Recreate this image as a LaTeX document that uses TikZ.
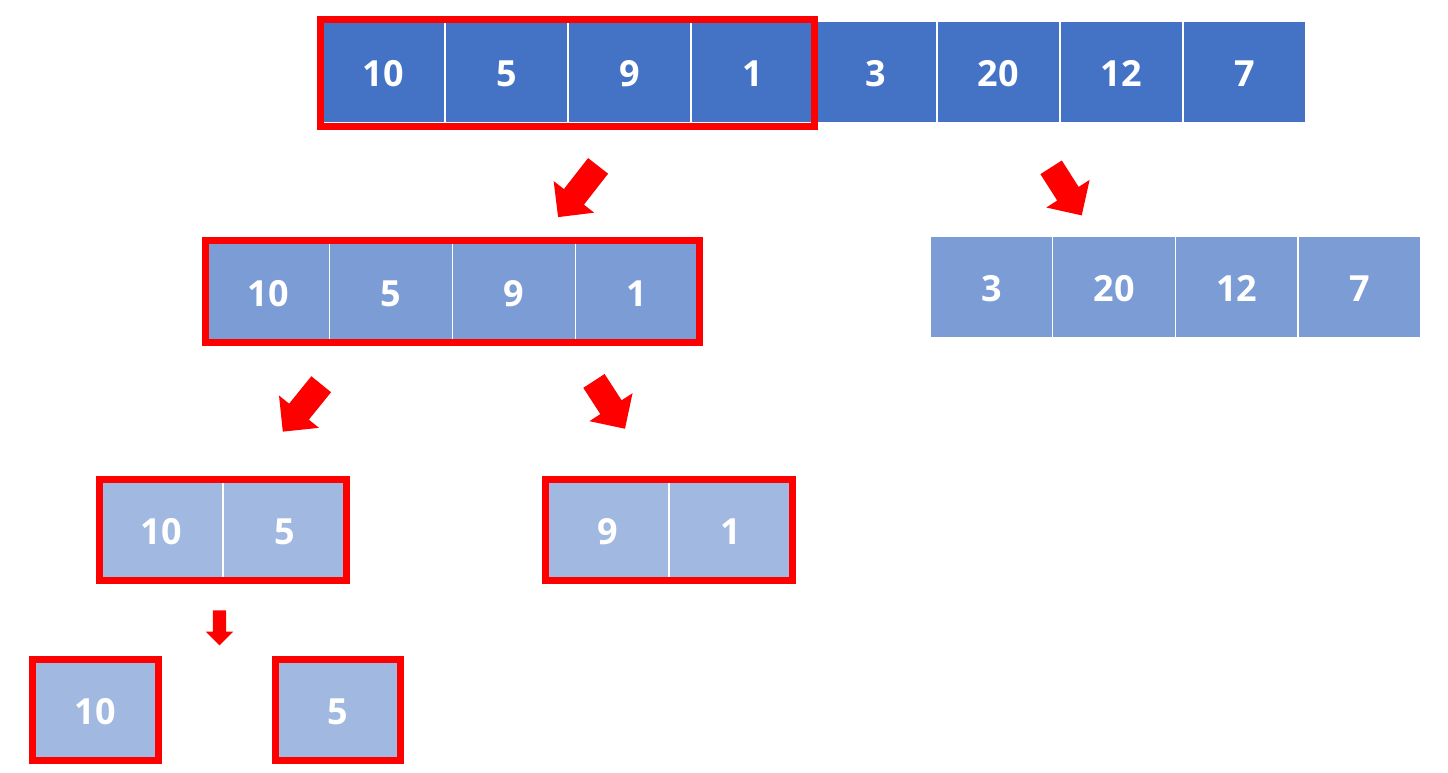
\documentclass[tikz,border=0pt]{standalone}
\usepackage{fontspec}
\setmainfont{Open Sans}
\usetikzlibrary{shapes.arrows}
\definecolor{dblue}{HTML}{4472C4}
\definecolor{mblue}{HTML}{7C9CD6}
\definecolor{lblue}{HTML}{A1B8E1}
\definecolor{fred}{HTML}{FF0000}
\tikzset{
  cell/.style={draw=white, line width=1.5pt, minimum width=123pt, minimum height=102pt,
    inner sep=0pt, text=white, text height=29pt, text depth=0pt,
    font=\fontsize{36}{40}\selectfont\bfseries},
  c1/.style={cell, fill=dblue},
  c2/.style={cell, fill=mblue},
  c3/.style={cell, fill=lblue},
  frame/.style={draw=fred, line width=7pt},
  fat/.style={single arrow, fill=fred, draw=none, inner xsep=0pt, inner ysep=12.5pt,
    single arrow head extend=13pt, single arrow tip angle=90, single arrow head indent=0pt},
  thin/.style={single arrow, fill=fred, draw=none, inner xsep=0pt, inner ysep=6.5pt,
    single arrow head extend=7pt, single arrow tip angle=90, single arrow head indent=0pt}
}
\begin{document}
\begin{tikzpicture}[x=1pt, y=-1pt]
\useasboundingbox (0,0) rectangle (1448,773);
% row 1
\node[c1] (a1) at (383.5,72) {10};
\node[c1] (a2) at (506.5,72) {5};
\node[c1] (a3) at (629.5,72) {9};
\node[c1] (a4) at (752.5,72) {1};
\node[c1] (a5) at (875.5,72) {3};
\node[c1] (a6) at (998.5,72) {20};
\node[c1] (a7) at (1121.5,72) {12};
\node[c1] (a8) at (1244.5,72) {7};
\draw[frame] ([xshift=-0.5pt,yshift=0.5pt]a1.north west) rectangle ([yshift=-3pt]a4.south east);
% row 2 left
\node[c2, minimum height=100pt] (b1) at (268,291.5) {10};
\node[c2, minimum height=100pt] (b2) at (391,291.5) {5};
\node[c2, minimum height=100pt] (b3) at (514,291.5) {9};
\node[c2, minimum height=100pt] (b4) at (637,291.5) {1};
\draw[frame] (b1.north west) rectangle (b4.south east);
% row 2 right
\node[c2] (r1) at (991.4,287) {3};
\node[c2] (r2) at (1114.1,287) {20};
\node[c2] (r3) at (1236.9,287) {12};
\node[c2] (r4) at (1359.6,287) {7};
% row 3
\node[c3, minimum height=99pt] (d1) at (161.5,530) {10};
\node[c3, minimum height=99pt] (d2) at (284.5,530) {5};
\draw[frame] (d1.north west) rectangle (d2.south east);
\node[c3, minimum height=99pt] (e1) at (607.5,530) {9};
\node[c3, minimum height=99pt] (e2) at (730.5,530) {1};
\draw[frame] (e1.north west) rectangle (e2.south east);
% row 4
\node[c3, minimum height=99pt, minimum width=124pt] (f1) at (95.5,710) {10};
\draw[frame] (f1.north west) rectangle (f1.south east);
\node[c3, minimum height=99pt] (f2) at (338,710) {5};
\draw[frame] (f2.north west) rectangle (f2.south east);
% arrows
\node[fat, minimum height=65pt, rotate=232] (ar1) at (582,186.5) {};
\node[fat, minimum height=57pt, rotate=-57.5] (ar2) at (1063,186) {};
\node[fat, minimum height=61pt, rotate=231] (ar3) at (306,403) {};
\node[fat, minimum height=57pt, rotate=-57] (ar4) at (606,399.5) {};
\node[thin, minimum height=35pt, rotate=-90] (ar5) at (219.5,624.5) {};
\end{tikzpicture}
\end{document}
